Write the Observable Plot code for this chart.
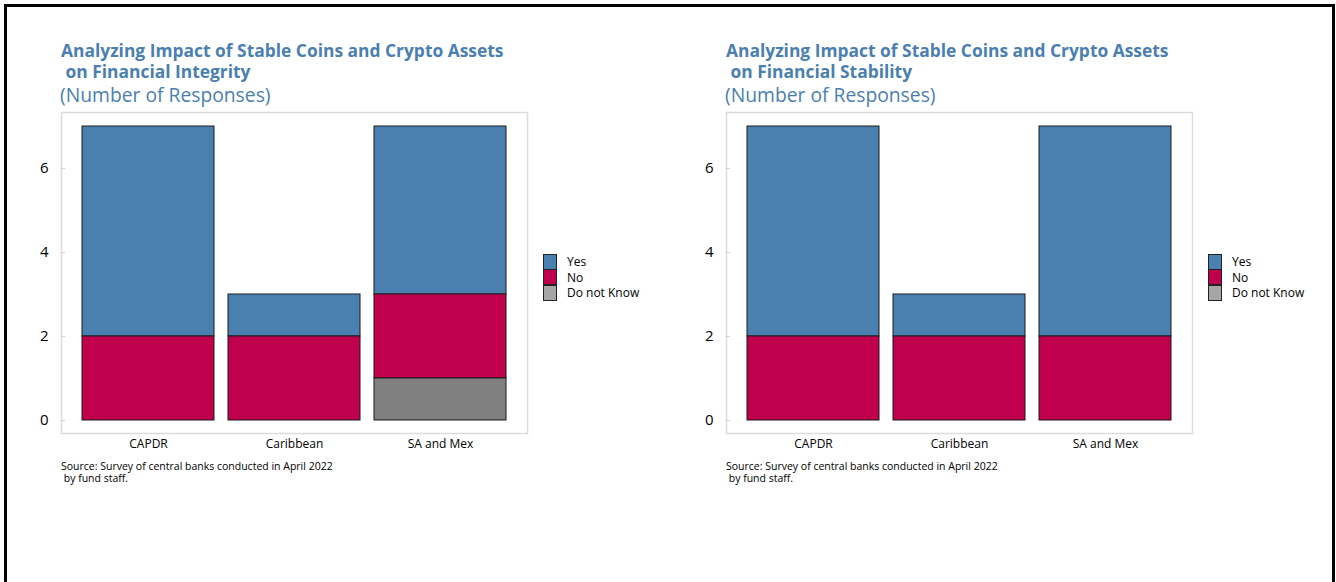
<!DOCTYPE html>
<html>
<head>
<meta charset="utf-8">
<script src="https://cdn.jsdelivr.net/npm/d3@7"></script>
<script src="https://cdn.jsdelivr.net/npm/@observablehq/plot@0.6"></script>
<style>
  html, body { margin: 0; padding: 0; background: #fff; }
  body { width: 1336px; height: 582px; position: relative; overflow: hidden; font-family: "Open Sans", "Noto Sans", sans-serif; }
  .border { position: absolute; left: 4px; top: 4px; width: 1331px; height: 600px; border: 3px solid #000; box-sizing: border-box; }
  .panel { position: absolute; top: 0; width: 660px; height: 582px; }
  .title { position: absolute; left: 61px; top: 40px; color: #4a7fb0; font-weight: 700; font-size: 17.4px; line-height: 21px; white-space: pre; }
  .subtitle { position: absolute; left: 60px; top: 83px; color: #4a7fb0; font-size: 19.3px; line-height: 24px; white-space: pre; }
  .legend { position: absolute; left: 543px; top: 254px; font-size: 12px; }
  .legend .row { display: flex; align-items: center; height: 15.5px; }
  .legend .sw { width: 12px; height: 14px; border: 1px solid #222; box-sizing: content-box; margin-right: 10px; }
  .source { position: absolute; left: 61px; top: 460px; font-size: 10.5px; line-height: 12px; white-space: pre; color: #000; }
</style>
</head>
<body>
<div class="border"></div>
<script>
const regions = ["CAPDR", "Caribbean", "SA and Mex"];
const responses = ["Yes", "No", "Do not Know"];
const stackOrder = ["Do not Know", "No", "Yes"];
const colors = ["#4a80b0", "#c0004d", "#808080"];
const legendColors = ["#4a80b0", "#c0004d", "#a6a6a6"];

const integrityYes = [5, 1, 4];
const integrityNo = [2, 2, 2];
const integrityDNK = [0, 0, 1];

const stabilityYes = [5, 1, 5];
const stabilityNo = [2, 2, 2];
const stabilityDNK = [0, 0, 0];

const yTicks = [0, 2, 4, 6];

const panels = [
  {
    title: "Analyzing Impact of Stable Coins and Crypto Assets\n on Financial Integrity",
    series: [integrityYes, integrityNo, integrityDNK],
    left: 0
  },
  {
    title: "Analyzing Impact of Stable Coins and Crypto Assets\n on Financial Stability",
    series: [stabilityYes, stabilityNo, stabilityDNK],
    left: 665
  }
];

for (const p of panels) {
  const panel = document.createElement("div");
  panel.className = "panel";
  panel.style.left = p.left + "px";
  document.body.appendChild(panel);

  const t = document.createElement("div");
  t.className = "title";
  t.textContent = p.title;
  panel.appendChild(t);

  const st = document.createElement("div");
  st.className = "subtitle";
  st.textContent = "(Number of Responses)";
  panel.appendChild(st);

  const data = [];
  responses.forEach((r, i) => {
    regions.forEach((g, j) => {
      data.push({region: g, response: r, value: p.series[i][j]});
    });
  });

  const chart = Plot.plot({
    width: 560,
    height: 360,
    marginLeft: 61,
    marginRight: 33,
    marginTop: 7,
    marginBottom: 32,
    style: {fontFamily: "'Open Sans', 'Noto Sans', sans-serif", background: "transparent"},
    x: {domain: regions, insetLeft: 14, insetRight: 14, paddingInner: 0.096, paddingOuter: 0.048, label: null},
    y: {domain: [0, 7], insetTop: 14, insetBottom: 13, label: null},
    color: {domain: responses, range: colors},
    marks: [
      Plot.frame({stroke: "#dcdcdc", strokeWidth: 1.5}),
      Plot.barY(data, Plot.stackY({
        x: "region",
        y: "value",
        fill: "response",
        order: stackOrder,
        stroke: "#1a1a1a",
        strokeWidth: 1
      })),
      Plot.axisY(yTicks, {tickSize: -4, tickPadding: 17, stroke: "#cfcfcf", fontSize: 15, fill: "#000"}),
      Plot.axisX({tickSize: 0, tickPadding: 6, fontSize: 12, fill: "#000"})
    ]
  });
  chart.style.position = "absolute";
  chart.style.left = "0px";
  chart.style.top = "105px";
  panel.appendChild(chart);

  const legend = document.createElement("div");
  legend.className = "legend";
  responses.forEach((r, i) => {
    const row = document.createElement("div");
    row.className = "row";
    const sw = document.createElement("span");
    sw.className = "sw";
    sw.style.background = legendColors[i];
    const lab = document.createElement("span");
    lab.textContent = r;
    row.appendChild(sw);
    row.appendChild(lab);
    legend.appendChild(row);
  });
  panel.appendChild(legend);

  const src = document.createElement("div");
  src.className = "source";
  src.textContent = "Source: Survey of central banks conducted in April 2022\n by fund staff.";
  panel.appendChild(src);
}
</script>
</body>
</html>
